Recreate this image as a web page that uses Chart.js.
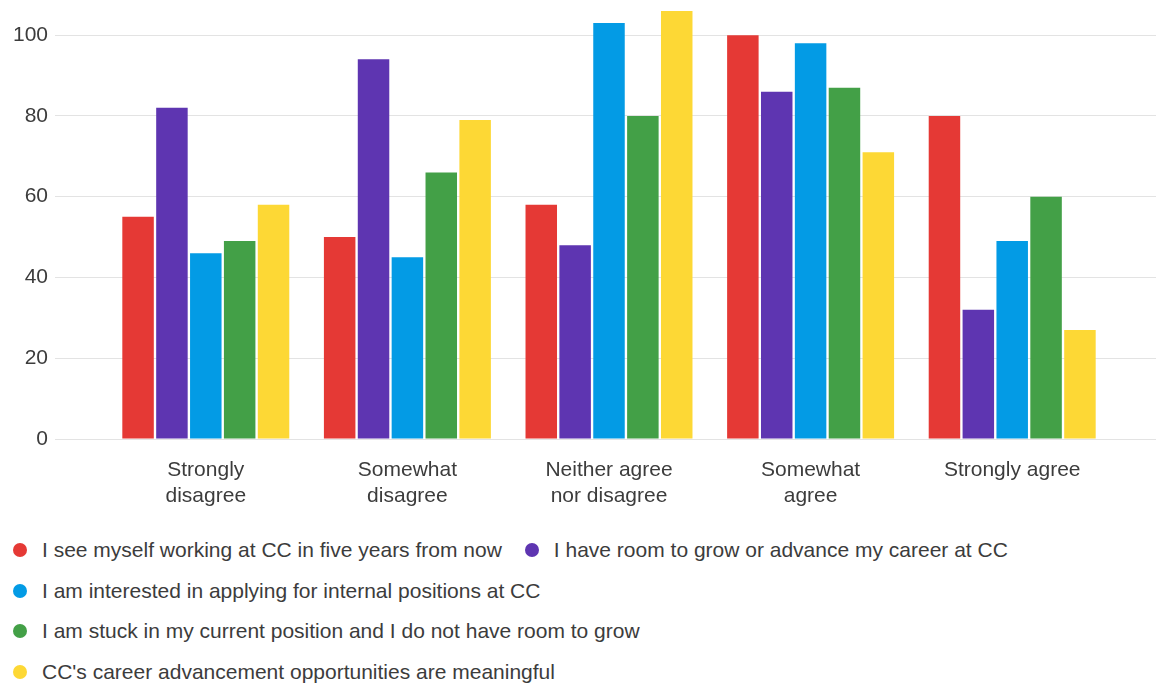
<!DOCTYPE html>
<html>
<head>
<meta charset="utf-8">
<script src="https://cdn.jsdelivr.net/npm/chart.js@4.4.1/dist/chart.umd.min.js"></script>
<style>
    html, body { margin: 0; padding: 0; background: #fff; }
    #wrap { width: 1156px; height: 684px; position: relative; overflow: hidden; }
    #chartBox { width: 1156px; height: 520px; position: relative; }
    #legend {
        display: flex; flex-wrap: wrap; margin: 10px 0 0 13px; width: 1140px;
        font-family: 'Liberation Sans', Arial, sans-serif; font-size: 21px; color: #3c3c3c;
    }
    .item { display: flex; align-items: center; height: 40.5px; margin-right: 23px; white-space: nowrap; }
    .dot { width: 14px; height: 14px; border-radius: 50%; margin-right: 15px; }
</style>
</head>
<body>
<div id="wrap">
    <div id="chartBox"><canvas id="surveyChart"></canvas></div>
    <div id="legend"></div>
</div>
<script>
// --- Data ---
const categories = [
    ['Strongly', 'disagree'],
    ['Somewhat', 'disagree'],
    ['Neither agree', 'nor disagree'],
    ['Somewhat', 'agree'],
    'Strongly agree'
];
const seriesNames = [
    'I see myself working at CC in five years from now',
    'I have room to grow or advance my career at CC',
    'I am interested in applying for internal positions at CC',
    'I am stuck in my current position and I do not have room to grow',
    "CC's career advancement opportunities are meaningful"
];
const seeMyself = [55, 50, 58, 100, 80];
const roomToGrow = [82, 94, 48, 86, 32];
const interested = [46, 45, 103, 98, 49];
const stuck = [49, 66, 80, 87, 60];
const meaningful = [58, 79, 106, 71, 27];
const yTicks = [0, 20, 40, 60, 80, 100];

const colors = ['#e53935', '#5e35b1', '#039be5', '#43a047', '#fdd835'];
const seriesValues = [seeMyself, roomToGrow, interested, stuck, meaningful];

// --- Chart ---
const textColor = '#3c3c3c';
const gridColor = '#e3e3e3';
const font = { family: "'Liberation Sans', Arial, sans-serif", size: 21 };

// only keep the round ticks, the top of the axis gets no label
const keepTicks = axis => {
    axis.ticks = yTicks.map(v => ({ value: v }));
};
// no extra room above/below for tick labels, plot starts at the very top
const noPad = scale => {
    scale.paddingTop = 0;
    scale.paddingBottom = 0;
};

const ctx = document.getElementById('surveyChart').getContext('2d');
new Chart(ctx, {
    type: 'bar',
    data: {
        labels: categories,
        datasets: seriesValues.map((vals, i) => ({
            label: seriesNames[i],
            data: vals,
            backgroundColor: colors[i],
            borderWidth: 0,
            barPercentage: 0.93,
            categoryPercentage: 0.84,
            yAxisID: 'y'
        }))
    },
    options: {
        responsive: true,
        maintainAspectRatio: false,
        animation: false,
        layout: { padding: 0 },
        plugins: {
            legend: { display: false },
            tooltip: { enabled: false }
        },
        scales: {
            x: {
                grid: { display: false, drawTicks: false },
                border: { display: false },
                ticks: { color: textColor, font: font, padding: 19, maxRotation: 0 },
                afterFit: scale => { scale.height = 81; }
            },
            y: {
                min: 0,
                max: 108.7,
                afterBuildTicks: keepTicks,
                grid: { color: gridColor, lineWidth: 1, tickLength: 50, tickColor: gridColor },
                border: { display: false },
                ticks: { color: textColor, font: font, padding: 7 },
                afterFit: scale => { scale.width = 105; noPad(scale); }
            },
            y2: {
                position: 'right',
                min: 0,
                max: 108.7,
                afterBuildTicks: keepTicks,
                grid: { drawOnChartArea: false, color: gridColor, tickLength: 43, tickColor: gridColor },
                border: { display: false },
                ticks: { display: false },
                afterFit: scale => { scale.width = 43; noPad(scale); }
            }
        }
    }
});

// --- Legend ---
const legendEl = document.getElementById('legend');
seriesNames.forEach((name, i) => {
    const item = document.createElement('div');
    item.className = 'item';
    const dot = document.createElement('span');
    dot.className = 'dot';
    dot.style.background = colors[i];
    const txt = document.createElement('span');
    txt.textContent = name;
    item.appendChild(dot);
    item.appendChild(txt);
    legendEl.appendChild(item);
});
</script>
</body>
</html>
